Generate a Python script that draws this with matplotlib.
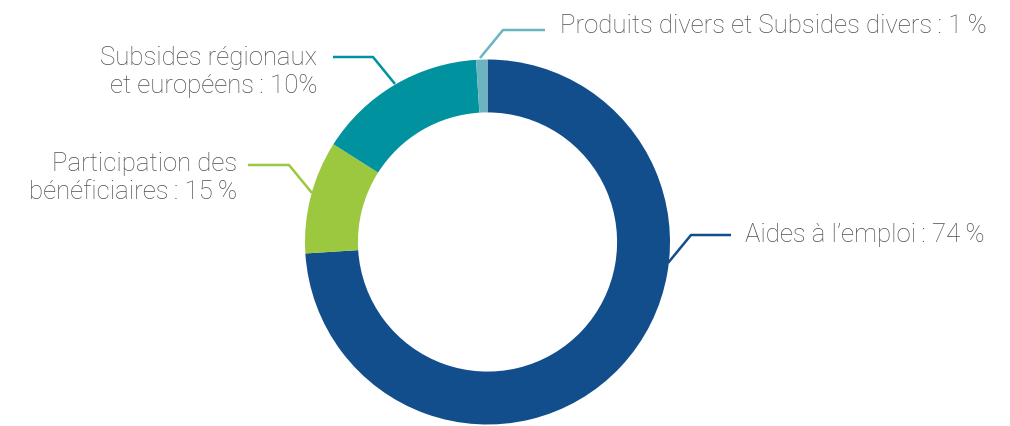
import matplotlib
matplotlib.use('Agg')
import matplotlib.pyplot as plt

# slice shares as drawn (clockwise from 12 o'clock)
categories = ['Aides à l’emploi', 'Participation des bénéficiaires',
              'Subsides régionaux et européens', 'Produits divers et Subsides divers']
shares = [74, 10, 15, 1]
labels = ['Aides à l’emploi\u2009: 74\u2009%',
          'Participation des\nbénéficiaires\u2009: 15\u2009%',
          'Subsides régionaux\net européens\u2009: 10%',
          'Produits divers et Subsides divers\u2009: 1\u2009%']
colors = ['#124e8c', '#9bc83f', '#00929e', '#6db4c1']

plt.rcParams['font.family'] = ['Roboto', 'DejaVu Sans']

W, H = 1010, 426
fig = plt.figure(figsize=(W / 100, H / 100), dpi=100)
ax = fig.add_axes([0, 0, 1, 1])

cx, cy, r = 487.5, H - 242, 182.5
ax.pie(shares, colors=colors, startangle=90, counterclock=False,
       center=(cx, cy), radius=r, frame=True,
       wedgeprops=dict(width=r * 0.29, linewidth=0))
ax.set_xlim(0, W)
ax.set_ylim(0, H)
ax.axis('off')

# leader lines (pixel coords, y from top) and label anchors
leaders = [
    [(668, 263), (691, 235), (731, 235)],
    [(312, 193), (289, 165), (248, 165)],
    [(395, 84), (373, 57), (333, 57)],
    [(480, 58), (503, 30), (545, 30)],
]
anchors = [(745, 235, 'left'), (237, 178, 'right'), (317, 72, 'right'), (560, 26, 'left')]

for pts, (tx, ty, ha), lab, col in zip(leaders, anchors, labels, colors):
    xs = [p[0] for p in pts]
    ys = [H - p[1] for p in pts]
    ax.plot(xs, ys, color=col, linewidth=1.8, solid_capstyle='butt')
    ax.text(tx, H - ty, lab, ha=ha, va='center', fontsize=18.5, color='#4f4f4f',
            fontweight='light', linespacing=1.17,
            multialignment='right' if ha == 'right' else 'left')

fig.savefig('out.png', dpi=100)
plt.close(fig)
